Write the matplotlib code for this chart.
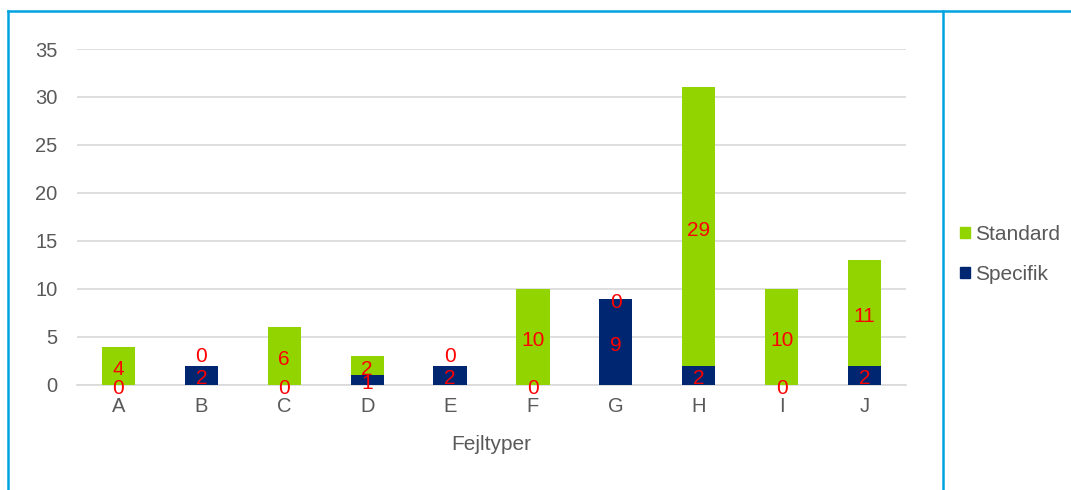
import numpy as np
import matplotlib
matplotlib.use("Agg")
from matplotlib import pyplot as plt
from matplotlib.lines import Line2D
from matplotlib.patches import Patch

categories = ['A', 'B', 'C', 'D', 'E', 'F', 'G', 'H', 'I', 'J']
specifik = [0, 2, 0, 1, 2, 0, 9, 2, 0, 2]
standard = [4, 0, 6, 2, 0, 10, 0, 29, 10, 11]
yticks = [0, 5, 10, 15, 20, 25, 30, 35]

GREEN = '#92D400'
NAVY = '#002672'
GREY = '#595959'
FRAME = '#00A3E0'

plt.rcParams['font.family'] = ['Liberation Sans', 'DejaVu Sans']

fig = plt.figure(figsize=(10.71, 4.90), dpi=100)
ax = fig.add_axes([0.0719, 0.2143, 0.774, 0.6857])

x = np.arange(len(categories))
ax.bar(x, specifik, width=0.4, color=NAVY, zorder=3)
ax.bar(x, standard, width=0.4, bottom=specifik, color=GREEN, zorder=3)

# red value labels in the middle of each segment
for i in range(len(categories)):
    y1 = specifik[i] / 2
    ax.annotate(str(specifik[i]), (x[i], y1), xytext=(0, -2.5),
                textcoords='offset points', ha='center', va='center',
                color='red', fontsize=15, zorder=5)
    y2 = specifik[i] + standard[i] / 2
    dy = -2.5
    if standard[i] == 0 and 0 < specifik[i] < 4:
        dy = 7
    ax.annotate(str(standard[i]), (x[i], y2), xytext=(0, dy),
                textcoords='offset points', ha='center', va='center',
                color='red', fontsize=15, zorder=5)

ax.set_xlim(-0.5, len(categories) - 0.5)
ax.set_ylim(0, 35)
ax.set_yticks(yticks)
ax.set_xticks(x)
ax.set_xticklabels(categories)
ax.grid(axis='y', color='#d9d9d9', linewidth=1.2, zorder=0)
for s in ['top', 'right', 'left']:
    ax.spines[s].set_visible(False)
ax.spines['bottom'].set_color('#d9d9d9')
ax.spines['bottom'].set_linewidth(1.2)
ax.tick_params(axis='both', length=0, labelsize=14.5, labelcolor=GREY)
ax.tick_params(axis='y', pad=14)
ax.tick_params(axis='x', pad=9)
ax.set_xlabel('Fejltyper', fontsize=15, color=GREY)
ax.xaxis.set_label_coords(0.5, -0.15)

handles = [Patch(color=GREEN), Patch(color=NAVY)]
fig.legend(handles, ['Standard', 'Specifik'], loc='center left',
           bbox_to_anchor=(0.8964, 0.4806), frameon=False, fontsize=15,
           labelcolor=GREY, handlelength=0.48, handleheight=0.48,
           handletextpad=0.25, labelspacing=1.0, borderpad=0,
           borderaxespad=0)

# blue frame around the chart area
fig.add_artist(Line2D([0.0075, 1.0], [0.9776, 0.9776], color=FRAME, linewidth=1.8))
fig.add_artist(Line2D([0.0075, 0.0075], [0.0, 0.9776], color=FRAME, linewidth=1.8))
fig.add_artist(Line2D([0.8805, 0.8805], [0.0, 0.9776], color=FRAME, linewidth=1.8))

fig.savefig('out.png', dpi=100)
